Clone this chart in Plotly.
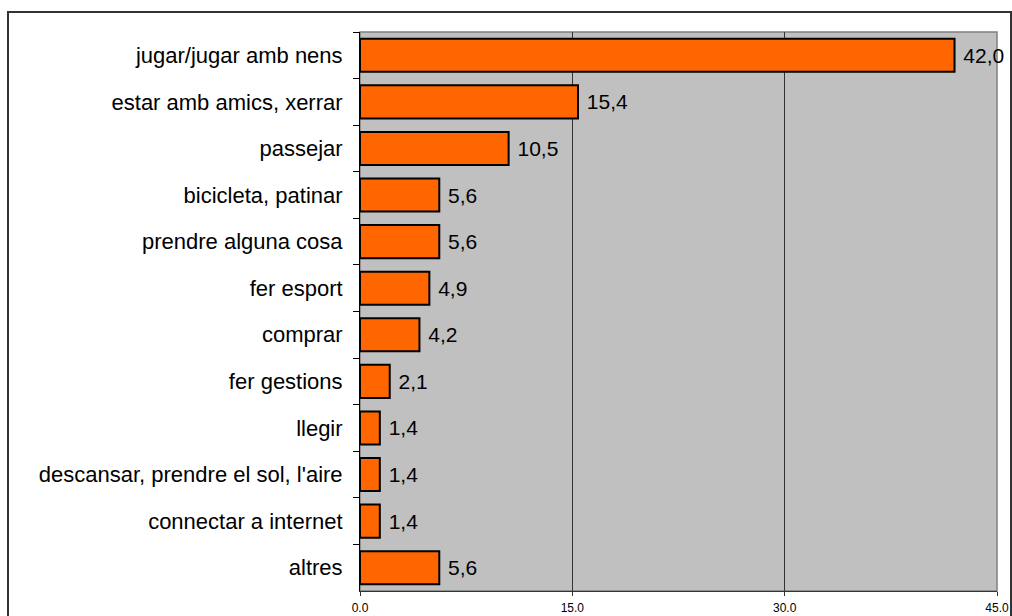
import plotly.graph_objects as go

categories = ["jugar/jugar amb nens", "estar amb amics, xerrar", "passejar",
              "bicicleta, patinar", "prendre alguna cosa", "fer esport", "comprar",
              "fer gestions", "llegir", "descansar, prendre el sol, l'aire",
              "connectar a internet", "altres"]
values = [42.0, 15.4, 10.5, 5.6, 5.6, 4.9, 4.2, 2.1, 1.4, 1.4, 1.4, 5.6]
x_ticks = [0, 15, 30, 45]
x_tick_labels = ["0.0", "15.0", "30.0", "45.0"]

labels = [f"{v:.1f}".replace(".", ",") for v in values]

FONT = "Liberation Sans, Arial, sans-serif"

fig = go.Figure(go.Bar(
    x=values, y=categories, orientation="h",
    marker=dict(color="#FF6600", line=dict(color="black", width=2)),
    text=labels, texttemplate=" %{text}", textposition="outside", cliponaxis=False,
    textfont=dict(size=21, color="black", family=FONT),
    width=0.71,
))

W, H = 1012, 616
L, R, T, B = 360, 15, 32, 25
pw, ph = W - L - R, H - T - B

fig.update_layout(
    width=W, height=H, autosize=False,
    margin=dict(l=L, r=R, t=T, b=B, autoexpand=False),
    paper_bgcolor="white", plot_bgcolor="#C0C0C0",
    font=dict(family=FONT, color="black"),
    showlegend=False,
    xaxis=dict(range=[0, 45], tickvals=x_ticks, ticktext=x_tick_labels,
               tickfont=dict(size=12), ticks="outside", ticklen=4, tickcolor="#333",
               showgrid=True, gridcolor="#333", gridwidth=1, zeroline=False,
               showline=True, linecolor="#333", linewidth=1, ticklabelstandoff=2,
               automargin=False, fixedrange=True),
    yaxis=dict(autorange="reversed", categoryorder="array", categoryarray=categories,
               tickfont=dict(size=22), ticks="outside", tickson="boundaries",
               ticklen=6, tickcolor="black", showline=True, linecolor="black",
               linewidth=1, showgrid=False, ticklabelstandoff=12, automargin=False),
    shapes=[
        dict(type="rect", xref="paper", yref="paper", x0=0, x1=1, y0=0, y1=1,
             line=dict(color="#808080", width=1.5), layer="below"),
        dict(type="rect", xref="paper", yref="paper",
             x0=(8 - L) / pw, x1=(1011 - L) / pw,
             y0=(H - B - 640) / ph, y1=(H - B - 12) / ph,
             line=dict(color="#333", width=2)),
    ],
)

fig.write_html("out.html", config={"displayModeBar": False},
               post_script="document.body.style.margin='0';document.body.style.overflow='hidden';")
